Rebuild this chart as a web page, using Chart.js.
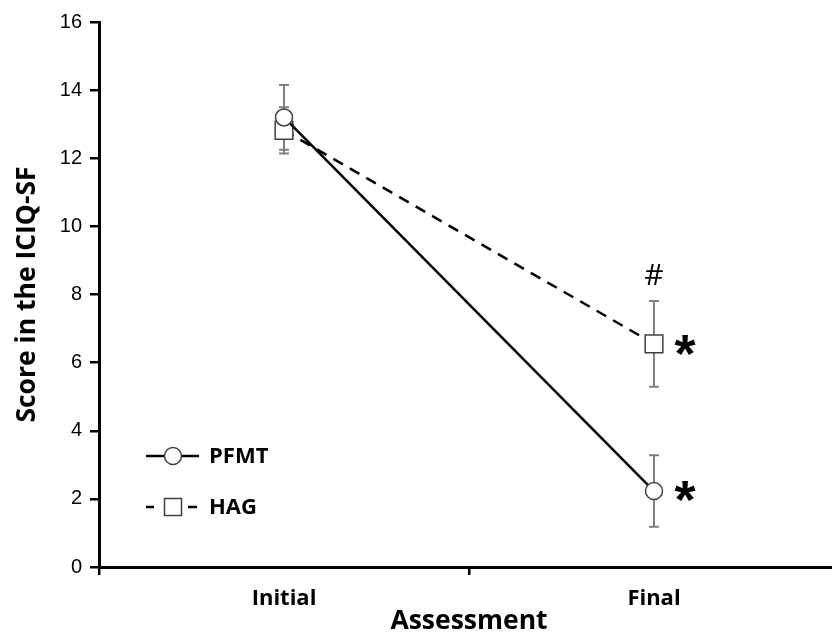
<!DOCTYPE html>
<html>
<head>
<meta charset="utf-8">
<script src="https://cdn.jsdelivr.net/npm/chart.js@4/dist/chart.umd.min.js"></script>
<style>
  html, body { margin: 0; padding: 0; background: #ffffff; overflow: hidden; }
  #wrap { width: 832px; height: 634px; overflow: hidden; }
</style>
</head>
<body>
<div id="wrap"><canvas id="chart" width="839" height="634"></canvas></div>
<script>
// 数据
const categories = ['Initial', 'Final'];
const pfmtMean = [13.2, 2.23];
const pfmtErr = [0.95, 1.05];
const hagMean = [12.82, 6.55];
const hagErr = [0.68, 1.26];
const hagAbove = ['', '#'];
const pfmtStar = ['', '*'];
const hagStar = ['', '*'];
const yMin = 0, yMax = 16, yStep = 2;

const titleFont = 'Open Sans';
const errColor = '#808080';

// 误差线和标注
const errorBars = {
    id: 'errorBars',
    beforeDatasetsDraw(chart) {
        const ctx = chart.ctx;
        const y = chart.scales.y;
        ctx.save();
        ctx.strokeStyle = errColor;
        ctx.lineWidth = 2;
        chart.data.datasets.forEach((ds, i) => {
            const meta = chart.getDatasetMeta(i);
            meta.data.forEach((pt, j) => {
                const e = ds.errors[j];
                const top = y.getPixelForValue(ds.data[j] + e);
                const bot = y.getPixelForValue(ds.data[j] - e);
                ctx.beginPath();
                ctx.moveTo(pt.x, top); ctx.lineTo(pt.x, bot);
                ctx.moveTo(pt.x - 5, top); ctx.lineTo(pt.x + 5, top);
                ctx.moveTo(pt.x - 5, bot); ctx.lineTo(pt.x + 5, bot);
                ctx.stroke();
            });
        });
        ctx.restore();
    },
    afterDatasetsDraw(chart) {
        const ctx = chart.ctx;
        const y = chart.scales.y;
        ctx.save();
        ctx.fillStyle = '#000';
        ctx.textAlign = 'center';
        const hag = chart.getDatasetMeta(1).data;
        const pf = chart.getDatasetMeta(0).data;
        ctx.font = '30px "Open Sans"';
        ctx.textBaseline = 'alphabetic';
        hagAbove.forEach((t, j) => {
            if (!t) return;
            ctx.fillText(t, hag[j].x, y.getPixelForValue(hagMean[j] + hagErr[j]) - 16);
        });
        ctx.font = 'bold 54px "Liberation Sans"';
        ctx.textBaseline = 'middle';
        hagStar.forEach((t, j) => {
            if (!t) return;
            ctx.fillText(t, hag[j].x + 31, hag[j].y + 13);
        });
        pfmtStar.forEach((t, j) => {
            if (!t) return;
            ctx.fillText(t, pf[j].x + 31, pf[j].y + 12);
        });
        ctx.restore();
    }
};

// 图例
const customLegend = {
    id: 'customLegend',
    afterDraw(chart) {
        const ctx = chart.ctx;
        ctx.save();
        ctx.strokeStyle = '#000';
        ctx.lineWidth = 2.5;
        // PFMT
        let yy = 456;
        ctx.beginPath(); ctx.moveTo(146, yy); ctx.lineTo(199, yy); ctx.stroke();
        ctx.beginPath(); ctx.arc(173, yy, 8.5, 0, Math.PI * 2);
        ctx.fillStyle = '#fff'; ctx.fill();
        ctx.lineWidth = 1.5; ctx.strokeStyle = '#404040'; ctx.stroke();
        // HAG
        yy = 507;
        ctx.strokeStyle = '#000'; ctx.lineWidth = 2.5;
        ctx.beginPath(); ctx.moveTo(146, yy); ctx.lineTo(154, yy); ctx.stroke();
        ctx.beginPath(); ctx.moveTo(188, yy); ctx.lineTo(197, yy); ctx.stroke();
        ctx.fillStyle = '#fff';
        ctx.fillRect(164.5, yy - 8.5, 17, 17);
        ctx.lineWidth = 1.5; ctx.strokeStyle = '#404040';
        ctx.strokeRect(164.5, yy - 8.5, 17, 17);
        ctx.fillStyle = '#000';
        ctx.font = 'bold 22px "Open Sans"';
        ctx.textAlign = 'left';
        ctx.textBaseline = 'middle';
        ctx.fillText('PFMT', 209, 457);
        ctx.fillText('HAG', 209, 508);
        ctx.restore();
    }
};

new Chart(document.getElementById('chart'), {
    type: 'line',
    data: {
        labels: categories,
        datasets: [{
            label: 'PFMT',
            data: pfmtMean,
            errors: pfmtErr,
            borderColor: '#000',
            borderWidth: 2.5,
            pointStyle: 'circle',
            pointRadius: 8.5,
            pointBackgroundColor: '#fff',
            pointBorderColor: '#404040',
            pointBorderWidth: 1.5,
            tension: 0
        }, {
            label: 'HAG',
            data: hagMean,
            errors: hagErr,
            borderColor: '#000',
            borderWidth: 2.5,
            borderDash: [11, 8],
            pointStyle: 'rect',
            pointRadius: 12.5,
            pointBackgroundColor: '#fff',
            pointBorderColor: '#404040',
            pointBorderWidth: 1.5,
            tension: 0
        }]
    },
    options: {
        responsive: false,
        animation: false,
        layout: { autoPadding: false, padding: { top: 22, right: 0, left: 0, bottom: 0 } },
        plugins: {
            legend: { display: false },
            tooltip: { enabled: false }
        },
        scales: {
            x: {
                type: 'category',
                offset: true,
                grid: { offset: true, drawOnChartArea: false, drawTicks: true, tickLength: 8, color: '#000', lineWidth: 2.5 },
                border: { color: '#000', width: 3 },
                ticks: { color: '#000', font: { family: titleFont, size: 22, weight: 'bold' }, padding: 11 },
                title: {
                    display: true, text: 'Assessment', color: '#000',
                    font: { family: titleFont, size: 26.5, weight: 'bold' },
                    padding: { top: 0, bottom: -3 }
                },
                afterFit(s) { s.height = 67; s.paddingLeft = 0; s.paddingRight = 0; }
            },
            y: {
                min: yMin, max: yMax,
                grid: { drawOnChartArea: false, drawTicks: true, tickLength: 9, color: '#000', lineWidth: 2.5 },
                border: { color: '#000', width: 3 },
                ticks: { stepSize: yStep, color: '#000', font: { family: 'Liberation Sans', size: 20 }, padding: 8 },
                title: {
                    display: true, text: 'Score in the ICIQ-SF', color: '#000',
                    font: { family: titleFont, size: 26.5, weight: 'bold' },
                    padding: { top: 12, bottom: 0 }
                },
                afterFit(s) { s.width = 99; }
            }
        }
    },
    plugins: [errorBars, customLegend]
});
</script>
</body>
</html>
